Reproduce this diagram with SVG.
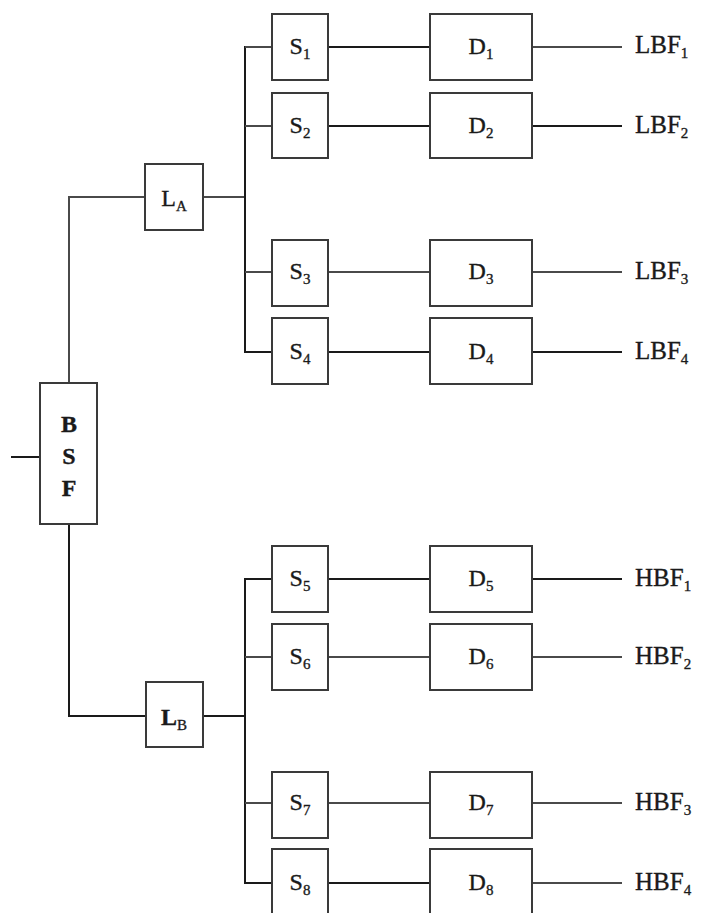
<svg xmlns="http://www.w3.org/2000/svg" width="704" height="913" viewBox="0 0 704 913">
  <style>
    .box { fill: #ffffff; stroke: #3a3a3a; stroke-width: 2; }
    .wire { fill: none; stroke: #4a4a4a; stroke-width: 2; }
    .dark { stroke: #1a1a1a; }
    text { font-family: "Liberation Serif", "Times New Roman", serif; fill: #1a1a1a; stroke: #1a1a1a; stroke-width: 0.35; }
    .lbl { font-size: 24px; text-anchor: middle; }
    .out { font-size: 25px; }
    .sub { font-size: 15px; }
  </style>
  <rect width="704" height="913" fill="#ffffff"/>

  <g id="connectors">
    <!-- input and trunk -->
    <line class="wire dark" x1="11" y1="457" x2="40" y2="457"/>
    <polyline class="wire" points="69,383 69,197 145,197"/>
    <polyline class="wire dark" points="69,524 69,716 146,716"/>
    <line class="wire" x1="203" y1="197" x2="245" y2="197"/>
    <line class="wire dark" x1="203" y1="716" x2="245" y2="716"/>
    <!-- buses -->
    <line class="wire dark" x1="245" y1="46" x2="245" y2="353"/>
    <line class="wire dark" x1="245" y1="578" x2="245" y2="884"/>
    <!-- bus to S -->
    <line class="wire" x1="245" y1="47" x2="272" y2="47"/>
    <line class="wire" x1="245" y1="126" x2="272" y2="126"/>
    <line class="wire" x1="245" y1="272" x2="272" y2="272"/>
    <line class="wire dark" x1="245" y1="352" x2="272" y2="352"/>
    <line class="wire dark" x1="245" y1="579" x2="272" y2="579"/>
    <line class="wire" x1="245" y1="657" x2="272" y2="657"/>
    <line class="wire" x1="245" y1="803" x2="272" y2="803"/>
    <line class="wire dark" x1="245" y1="883" x2="272" y2="883"/>
    <!-- S to D -->
    <line class="wire dark" x1="328" y1="47" x2="430" y2="47"/>
    <line class="wire dark" x1="328" y1="126" x2="430" y2="126"/>
    <line class="wire" x1="328" y1="272" x2="430" y2="272"/>
    <line class="wire dark" x1="328" y1="352" x2="430" y2="352"/>
    <line class="wire dark" x1="328" y1="579" x2="430" y2="579"/>
    <line class="wire" x1="328" y1="657" x2="430" y2="657"/>
    <line class="wire" x1="328" y1="803" x2="430" y2="803"/>
    <line class="wire dark" x1="328" y1="883" x2="430" y2="883"/>
    <!-- D to outputs -->
    <line class="wire" x1="532" y1="47" x2="622" y2="47"/>
    <line class="wire dark" x1="532" y1="126" x2="622" y2="126"/>
    <line class="wire" x1="532" y1="272" x2="622" y2="272"/>
    <line class="wire dark" x1="532" y1="352" x2="622" y2="352"/>
    <line class="wire dark" x1="532" y1="579" x2="622" y2="579"/>
    <line class="wire" x1="532" y1="657" x2="622" y2="657"/>
    <line class="wire" x1="532" y1="803" x2="622" y2="803"/>
    <line class="wire" x1="532" y1="883" x2="622" y2="883"/>
  </g>

  <g id="bsf">
    <rect class="box" x="40" y="383" width="57" height="141"/>
    <text class="lbl" x="69" y="432" font-weight="bold">B</text>
    <text class="lbl" x="69" y="464" font-weight="bold">S</text>
    <text class="lbl" x="69" y="496" font-weight="bold">F</text>
  </g>

  <g id="la">
    <rect class="box" x="145" y="164" width="58" height="66"/>
    <text class="lbl" x="174" y="206" font-size="25">L<tspan class="sub" dy="5">A</tspan></text>
  </g>
  <g id="lb">
    <rect class="box" x="146" y="682" width="57" height="65"/>
    <text class="lbl" x="174" y="725" font-size="25" font-weight="bold">L<tspan class="sub" dy="5" font-weight="normal">B</tspan></text>
  </g>

  <g id="s1"><rect class="box" x="272" y="14" width="56" height="66"/><text class="lbl" x="300" y="54">S<tspan class="sub" dy="5">1</tspan></text></g>
  <g id="s2"><rect class="box" x="272" y="93" width="56" height="65"/><text class="lbl" x="300" y="133">S<tspan class="sub" dy="5">2</tspan></text></g>
  <g id="s3"><rect class="box" x="272" y="240" width="56" height="66"/><text class="lbl" x="300" y="279">S<tspan class="sub" dy="5">3</tspan></text></g>
  <g id="s4"><rect class="box" x="272" y="318" width="56" height="66"/><text class="lbl" x="300" y="359">S<tspan class="sub" dy="5">4</tspan></text></g>
  <g id="s5"><rect class="box" x="272" y="546" width="56" height="66"/><text class="lbl" x="300" y="586">S<tspan class="sub" dy="5">5</tspan></text></g>
  <g id="s6"><rect class="box" x="272" y="624" width="56" height="66"/><text class="lbl" x="300" y="664">S<tspan class="sub" dy="5">6</tspan></text></g>
  <g id="s7"><rect class="box" x="272" y="772" width="56" height="66"/><text class="lbl" x="300" y="810">S<tspan class="sub" dy="5">7</tspan></text></g>
  <g id="s8"><rect class="box" x="272" y="849" width="56" height="68"/><text class="lbl" x="300" y="890">S<tspan class="sub" dy="5">8</tspan></text></g>

  <g id="d1"><rect class="box" x="430" y="14" width="102" height="66"/><text class="lbl" x="481" y="54">D<tspan class="sub" dy="5">1</tspan></text></g>
  <g id="d2"><rect class="box" x="430" y="93" width="102" height="65"/><text class="lbl" x="481" y="133">D<tspan class="sub" dy="5">2</tspan></text></g>
  <g id="d3"><rect class="box" x="430" y="240" width="102" height="66"/><text class="lbl" x="481" y="279">D<tspan class="sub" dy="5">3</tspan></text></g>
  <g id="d4"><rect class="box" x="430" y="318" width="102" height="66"/><text class="lbl" x="481" y="359">D<tspan class="sub" dy="5">4</tspan></text></g>
  <g id="d5"><rect class="box" x="430" y="546" width="102" height="66"/><text class="lbl" x="481" y="586">D<tspan class="sub" dy="5">5</tspan></text></g>
  <g id="d6"><rect class="box" x="430" y="624" width="102" height="66"/><text class="lbl" x="481" y="664">D<tspan class="sub" dy="5">6</tspan></text></g>
  <g id="d7"><rect class="box" x="430" y="772" width="102" height="66"/><text class="lbl" x="481" y="810">D<tspan class="sub" dy="5">7</tspan></text></g>
  <g id="d8"><rect class="box" x="430" y="849" width="102" height="68"/><text class="lbl" x="481" y="890">D<tspan class="sub" dy="5">8</tspan></text></g>

  <g id="outputs">
    <text class="out" x="635" y="53">LBF<tspan class="sub" dy="5">1</tspan></text>
    <text class="out" x="635" y="133">LBF<tspan class="sub" dy="5">2</tspan></text>
    <text class="out" x="635" y="279">LBF<tspan class="sub" dy="5">3</tspan></text>
    <text class="out" x="635" y="359">LBF<tspan class="sub" dy="5">4</tspan></text>
    <text class="out" x="635" y="586">HBF<tspan class="sub" dy="5">1</tspan></text>
    <text class="out" x="635" y="664">HBF<tspan class="sub" dy="5">2</tspan></text>
    <text class="out" x="635" y="810">HBF<tspan class="sub" dy="5">3</tspan></text>
    <text class="out" x="635" y="890">HBF<tspan class="sub" dy="5">4</tspan></text>
  </g>
</svg>
